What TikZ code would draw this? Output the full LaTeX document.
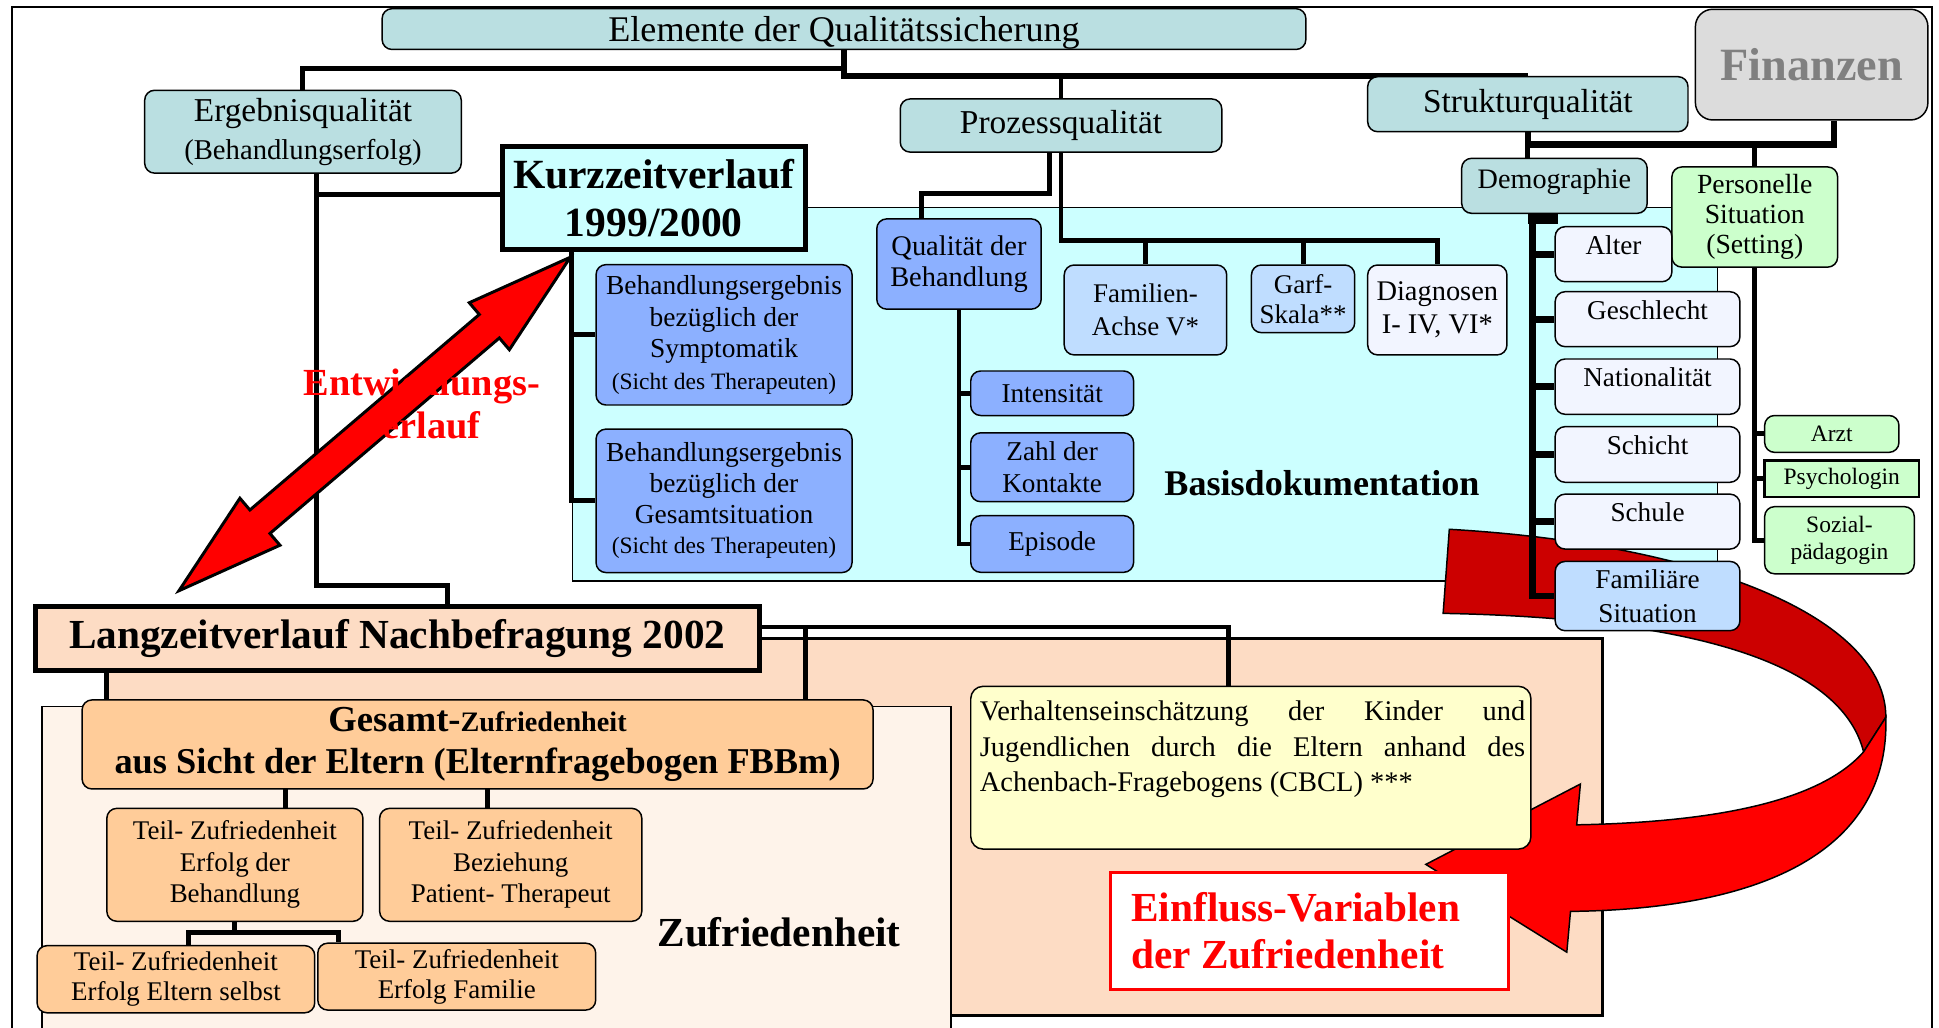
\documentclass[tikz,border=0pt]{standalone}
\usepackage{fontspec}
\setmainfont{Liberation Serif}
\definecolor{tealbox}{HTML}{BADFE1}
\definecolor{cyanbg}{HTML}{CCFFFF}
\definecolor{bluebox}{HTML}{8CB0FF}
\definecolor{lightblue}{HTML}{BFDDFF}
\definecolor{paleblue}{HTML}{F2F5FF}
\definecolor{greenbox}{HTML}{CCFFCC}
\definecolor{graybox}{HTML}{DCDCDC}
\definecolor{graytext}{HTML}{808080}
\definecolor{peach}{HTML}{FDDCC4}
\definecolor{zufrbg}{HTML}{FEF3EA}
\definecolor{orangebox}{HTML}{FFCC99}
\definecolor{yellowbox}{HTML}{FFFFCC}
\definecolor{darkred}{HTML}{CC0000}
\newcommand\fsz[2]{\fontsize{#1}{#2}\selectfont}
\hbadness=10000
\tolerance=10000
\pgfdeclarelayer{back}
\pgfdeclarelayer{bg}
\pgfsetlayers{back,bg,main}
\begin{document}
\begin{tikzpicture}[x=0.5pt,y=-0.5pt,
    sz/.style 2 args={minimum width=#1pt,minimum height=#2pt},
    box/.style={draw,line width=0.6pt,rounded corners=4pt,inner sep=1pt,align=center},
    tbox/.style={box,fill=tealbox},
    bbox/.style={box,fill=bluebox,font=\fsz{11}{12.8}},
    listbox/.style={box,fill=paleblue,sz={74.7}{#1},font=\fsz{11}{13.5},text height=4pt,text depth=4pt},
    gbox/.style={box,fill=greenbox,font=\fsz{9.5}{10.8}},
    obox/.style={box,fill=orangebox,font=\fsz{10.9}{12.75}},
    region/.style={draw,inner sep=0pt},
    link/.style={line width=2pt},
    boldlink/.style={line width=2.7pt}]
\useasboundingbox (0,0) rectangle (1568,831);

\begin{pgfonlayer}{back}
\draw[line width=0.8pt] (9.4,5.5) rectangle (1562.5,850);
\node[region,line width=1.2pt,fill=peach,sz={604.5}{152.5}] (peachbg) at (691.5,668.5) {};
\node[region,line width=0.6pt,fill=zufrbg,sz={367.5}{139.25}] (zufrbg) at (401.5,710.75) {};
\node[region,line width=0.6pt,fill=cyanbg,sz={463}{151}] (basisbg) at (926,319) {};
\end{pgfonlayer}

% Kopf
\node[tbox,sz={373.5}{16.5},text depth=0pt,font=\fsz{14.6}{17}] (title) at (682.5,23.5) {Elemente der Qualitätssicherung};
\node[tbox,sz={128}{33.5},font=\fsz{13.5}{15.3}] (ergeb) at (245,106.5) {Ergebnisqualität\\\fsz{11.6}{15.3}(Behandlungserfolg)};
\node[tbox,sz={130}{21.5},font=\fsz{13.5}{16}] (prozess) at (858,101.5) {Prozessqualität};
\node[tbox,sz={129.5}{22.25},font=\fsz{13.5}{16}] (struktur) at (1235.5,84.25) {Strukturqualität};
\node[box,fill=graybox,rounded corners=7pt,sz={94}{44.75},text=graytext,font=\bfseries\fsz{18.7}{22}] (finanzen) at (1465,52.25) {Finanzen};
\node[tbox,sz={75}{22.25},font=\fsz{11.4}{13},text height=6pt,text depth=4pt] (demog) at (1257,150.25) {Demographie};
\node[box,fill=greenbox,sz={67}{40.5},font=\fsz{11.2}{12.15}] (personell) at (1419,175.5) {Personelle\\Situation\\(Setting)};

% Kurzzeitverlauf
\node[draw,line width=2pt,fill=cyanbg,sz={122.75}{41.5},align=center,font=\bfseries\fsz{16.8}{19.2}] (kurz) at (528.75,160.1) {Kurzzeitverlauf\\1999/2000};
\node[bbox,sz={103.5}{56.75},font=\fsz{11.1}{12.75}] (beh1) at (585.5,270.75) {Behandlungsergebnis\\bezüglich der\\Symptomatik\\\fsz{9.5}{12.2}(Sicht des Therapeuten)};
\node[bbox,sz={103.5}{58},font=\fsz{11.1}{12.4}] (beh2) at (585.5,405) {Behandlungsergebnis\\bezüglich der\\Gesamtsituation\\\fsz{9.5}{12.2}(Sicht des Therapeuten)};
\node[bbox,sz={66.5}{36.5},font=\fsz{11.5}{12.5}] (qual) at (775.5,213.5) {Qualität der\\Behandlung};
\node[box,fill=lightblue,sz={65.7}{36.35},font=\fsz{10.9}{13.5}] (famil) at (926.3,250.65) {Familien-\\Achse V*};
\node[box,fill=lightblue,sz={41.75}{27.35},font=\fsz{10.9}{12.25}] (garf) at (1053.75,241.65) {Garf-\\Skala**};
\node[box,fill=paleblue,sz={56.3}{36.35},font=\fsz{11.5}{13.5}] (diag) at (1162.3,250.65) {Diagnosen\\I- IV, VI*};
\node[bbox,sz={65.85}{18}] (intens) at (850.85,318) {Intensität};
\node[bbox,sz={65.85}{27.85}] (zahl) at (850.85,377.85) {Zahl der\\Kontakte};
\node[bbox,sz={65.85}{22.9}] (episode) at (850.85,439.9) {Episode};
\node[font=\bfseries\fsz{14.6}{17},anchor=base] (basis) at (1069,400.3) {Basisdokumentation};

% Demographie
\node[listbox=22.25,sz={47.2}{22.25}] (alter) at (1304.8,205.55) {Alter};
\node[listbox=22.2] (geschl) at (1332.3,258.1) {Geschlecht};
\node[listbox=22.35] (nation) at (1332.3,312.65) {Nationalität};
\node[listbox=22.5] (schicht) at (1332.3,367.5) {Schicht};
\node[listbox=22.2] (schule) at (1332.3,421.8) {Schule};
\node[box,fill=lightblue,sz={74.7}{28},font=\fsz{11}{13.5}] (famsit) at (1332.3,482) {Familiäre\\Situation};
\node[gbox,sz={54.3}{14.9}] (arzt) at (1481.3,350.9) {Arzt};
\node[gbox,rounded corners=0pt,line width=1pt,sz={62.35}{14.75}] (psych) at (1489.35,387.25) {Psychologin};
\node[gbox,sz={60.5}{27.15}] (sozial) at (1487.5,436.85) {Sozial-\\pädagogin};

% Langzeitverlauf
\node[draw,line width=2.2pt,fill=peach,sz={292.75}{25.9},font=\bfseries\fsz{16.7}{19}] (lang) at (321.25,516.5) {Langzeitverlauf Nachbefragung 2002};
\node[box,fill=orangebox,sz={319.8}{36},font=\bfseries\fsz{14.7}{16.85}] (gesamt) at (386.2,602) {\fsz{14.8}{16.85}Gesamt-\fsz{11.4}{16.85}Zufriedenheit\\\fsz{14.7}{16.85}aus Sicht der Eltern (Elternfragebogen FBBm)};
\node[obox,sz={103.55}{45.65}] (t1) at (189.95,699.35) {Teil- Zufriedenheit\\Erfolg der\\Behandlung};
\node[obox,sz={106}{45.65}] (t2) at (413,699.35) {Teil- Zufriedenheit\\Beziehung\\Patient- Therapeut};
\node[obox,sz={112.25}{27.15},font=\fsz{10.9}{12.1}] (t3) at (142.25,791.85) {Teil- Zufriedenheit\\Erfolg Eltern selbst};
\node[obox,sz={112.35}{27.05},font=\fsz{10.9}{12.1}] (t4) at (369.35,789.75) {Teil- Zufriedenheit\\Erfolg Familie};
\node[font=\bfseries\fsz{16.7}{19},anchor=base] (zufrlabel) at (630,765.6) {Zufriedenheit};
\node[box,rounded corners=5pt,fill=yellowbox,sz={226.5}{65.8}] (verh) at (1011.5,620.8) {};
\node[anchor=north west,inner sep=0pt,text width=220.5pt,align=justify,font=\fsz{11.5}{14.5}] (verhtext) at (792,566) {Verhaltenseinschätzung der Kinder und\linebreak Jugendlichen durch die Eltern anhand des\linebreak Achenbach-Fragebogens (CBCL) ***};
\node[draw=red,line width=1.3pt,fill=white,sz={160.8}{47.15},text width=144pt,inner xsep=8.35pt,align=flush left,text=red,font=\bfseries\fsz{16.7}{18.9}] (einfl) at (1058.8,752.85) {Einfluss-Variablen\\der Zufriedenheit};
\node[text=red,align=center,font=\bfseries\fsz{15.5}{17.25}] (entw) at (341,326.5) {Entwicklungs-\\verlauf};

\begin{pgfonlayer}{bg}
% Pfeil Einfluss
\filldraw[fill=darkred,draw=black,line width=0.6pt] (1172,428) .. controls (1380,440) and (1525,500) .. (1525,580) -- (1507,608) .. controls (1490,540) and (1380,500) .. (1167,496) -- cycle;
\filldraw[fill=red,draw=black,line width=0.6pt] (1525,580) .. controls (1528,680) and (1440,735) .. (1270,737) -- (1267,770) -- (1153,699) -- (1278,634) -- (1275,667) .. controls (1380,665) and (1470,650) .. (1507,608) -- cycle;
% Verbindungen
\draw[link] (ergeb.north) -- ++(0,-17) -| (title.south);
\draw[boldlink] (title.south) |- (struktur.north);
\draw[link] (prozess.north) -- (prozess.north |- struktur.north);
\draw[link] ([xshift=-4.5pt]prozess.south) -- ++(0,33) -| ([xshift=-15pt]qual.north);
\draw[link] (prozess.south) |- ([yshift=9.5pt]diag.north) -- (diag.north);
\foreach \n in {famil,garf} \draw[link] (\n.north) -- ++(0,-19);
\foreach \n in {intens,zahl,episode} \draw[link] (qual.south) |- (\n.west);
\path ([xshift=-9.5pt]beh1.west) coordinate (kx);
\coordinate (kjoin) at (kx |- kurz.south);
\foreach \n in {beh1,beh2} \draw[link] (kjoin) |- (\n.west);
\draw[link] ([xshift=5.3pt]ergeb.south) |- ([yshift=1.5pt]kurz.west);
\draw[link] ([xshift=5.3pt]ergeb.south) |- ([xshift=20.4pt,yshift=7.5pt]lang.north) -- ([xshift=20.4pt]lang.north);
\draw[link] (struktur.south) -- (struktur.south |- demog.north);
\draw[boldlink] (struktur.south) -- ++(0,9.5) -| ([xshift=9pt]finanzen.south);
\draw[link] (personell.north) -- ++(0,-19);
\path ([xshift=-9pt]demog.south) coordinate (dspine);
\foreach \n in {alter,geschl,nation,schicht,schule,famsit} \draw[boldlink] (dspine) |- (\n.west);
\fill (dspine) ++(-3,0) rectangle ++(24,8);
\foreach \n in {arzt,psych,sozial} \draw[link] (personell.south) |- (\n.west);
\draw[link] (lang.south -| peachbg.west) -- (gesamt.north -| peachbg.west);
\draw[link] ([yshift=4.75pt]lang.east) -| ([xshift=-9pt]verh.north);
\draw[link] ([xshift=132.65pt]gesamt.north) -- ++(0,-59);
\draw[link] ([xshift=20.3pt]t1.north) -- ++(0,-15.7);
\draw[link] ([xshift=-9.3pt]t2.north) -- ++(0,-15.7);
\draw[link] (t1.south) -- ++(0,8.4) coordinate (tjoin);
\draw[link] ([xshift=4.9pt]t3.north) |- (tjoin) -| ([xshift=-47.9pt]t4.north);
% Pfeil Entwicklungsverlauf
\filldraw[fill=red,draw=black,line width=1.2pt] (461.2,208) -- (411.9,282.8) -- (403.8,273.3) -- (218.3,431.4) -- (226.4,440.9) -- (144.7,477.7) -- (194,402.9) -- (202.1,412.4) -- (387.6,254.3) -- (379.5,244.8) -- cycle;
\end{pgfonlayer}
\end{tikzpicture}
\end{document}
